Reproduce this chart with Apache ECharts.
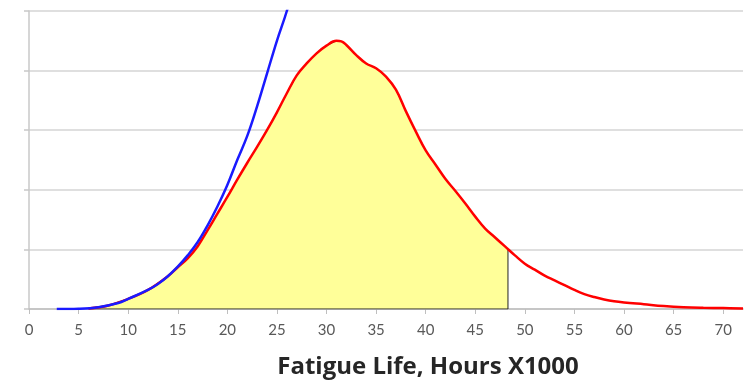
<!DOCTYPE html>
<html>
<head>
<meta charset="utf-8">
<script src="https://cdn.jsdelivr.net/npm/echarts@6/dist/echarts.min.js"></script>
<style>
    html, body { margin: 0; padding: 0; background: #ffffff; }
    #chart { width: 744px; height: 380px; }
</style>
</head>
<body>
<div id="chart"></div>
<script>
// x ticks, hours x1000
var xTicks = [0, 5, 10, 15, 20, 25, 30, 35, 40, 45, 50, 55, 60, 65, 70];

// red: life distribution
var redX = [6, 8, 10, 12, 14, 15, 16, 17, 18, 19, 20, 21, 22, 23, 24, 25, 26, 27, 28, 29, 30, 31, 31.5, 32, 33, 34, 35, 36, 37, 38, 39, 40,
    41, 42, 43, 44, 45, 46, 47, 48, 49, 50, 51, 52, 53, 54, 55, 56, 57, 58, 59, 60, 62, 64, 66, 68, 70, 72];
var redY = [0.01, 0.06, 0.17, 0.32, 0.55, 0.7, 0.85, 1.05, 1.32, 1.6, 1.88, 2.17, 2.45, 2.72, 3.0, 3.3, 3.62, 3.92, 4.12, 4.29, 4.42, 4.5, 4.49, 4.43, 4.26, 4.12, 4.04, 3.9, 3.68, 3.32, 2.98, 2.66,
    2.42, 2.18, 1.98, 1.77, 1.55, 1.35, 1.2, 1.05, 0.9, 0.76, 0.66, 0.56, 0.48, 0.4, 0.32, 0.25, 0.2, 0.16, 0.13, 0.11, 0.08, 0.05, 0.03, 0.02, 0.015, 0.01];

// blue: early-failure curve
var blueX = [2.8, 5, 7, 9, 10, 12, 13, 14, 15, 16, 17, 18, 19, 20, 21, 22, 23, 24, 25, 26, 27];
var blueY = [0, 0.005, 0.03, 0.1, 0.17, 0.32, 0.42, 0.55, 0.71, 0.9, 1.12, 1.4, 1.72, 2.08, 2.5, 2.9, 3.4, 3.95, 4.5, 5.0, 5.6];

// shaded part ends here
var cutoffX = 48.3;
var cutoffY = 1.0;

var redData = [];
for (var i = 0; i < redX.length; i++) {
    redData.push([redX[i], redY[i]]);
}
var blueData = [];
for (var j = 0; j < blueX.length; j++) {
    blueData.push([blueX[j], blueY[j]]);
}
var shadeData = [];
for (var k = 0; k < redX.length; k++) {
    if (redX[k] < cutoffX) shadeData.push([redX[k], redY[k]]);
}
shadeData.push([cutoffX, cutoffY]);
shadeData.push([cutoffX, 0]);
shadeData.push([redX[0], 0]);

var chart = echarts.init(document.getElementById('chart'));
var option = {
    animation: false,
    title: {
        text: 'Fatigue Life, Hours X1000',
        left: 423,
        top: 350,
        textAlign: 'center',
        textStyle: {
            fontFamily: 'Open Sans',
            fontWeight: 'bold',
            fontSize: 24,
            color: '#262626'
        }
    },
    grid: {
        left: 29,
        right: 1,
        top: 11,
        bottom: 71
    },
    xAxis: {
        type: 'value',
        min: 0,
        max: 72,
        interval: 5,
        axisLine: { onZero: false, lineStyle: { color: '#bfbfbf', width: 1.5 } },
        axisTick: { show: true, length: 5, customValues: xTicks, lineStyle: { color: '#bfbfbf' } },
        axisLabel: {
            customValues: xTicks,
            margin: 14,
            fontFamily: 'Lato',
            fontSize: 15,
            color: '#595959'
        },
        splitLine: { show: false }
    },
    yAxis: {
        type: 'value',
        min: 0,
        max: 5,
        interval: 1,
        axisLine: { show: true, lineStyle: { color: '#c8c8c8', width: 1.5 } },
        axisTick: { show: true, length: 5, lineStyle: { color: '#c8c8c8', width: 1.5 } },
        axisLabel: { show: false },
        splitLine: { lineStyle: { color: '#d4d4d4', width: 1.5 } }
    },
    series: [
        {
            type: 'line',
            data: shadeData,
            showSymbol: false,
            smooth: false,
            lineStyle: { color: '#222222', width: 1 },
            areaStyle: { color: '#ffff99', opacity: 1 },
            z: 1
        },
        {
            type: 'line',
            data: redData,
            showSymbol: false,
            smooth: 0.4,
            lineStyle: { color: '#ff0000', width: 2.5 },
            z: 2
        },
        {
            type: 'line',
            data: blueData,
            showSymbol: false,
            smooth: 0.4,
            clip: true,
            lineStyle: { color: '#1a1aff', width: 2.5 },
            z: 3
        }
    ]
};
chart.setOption(option);
</script>
</body>
</html>
